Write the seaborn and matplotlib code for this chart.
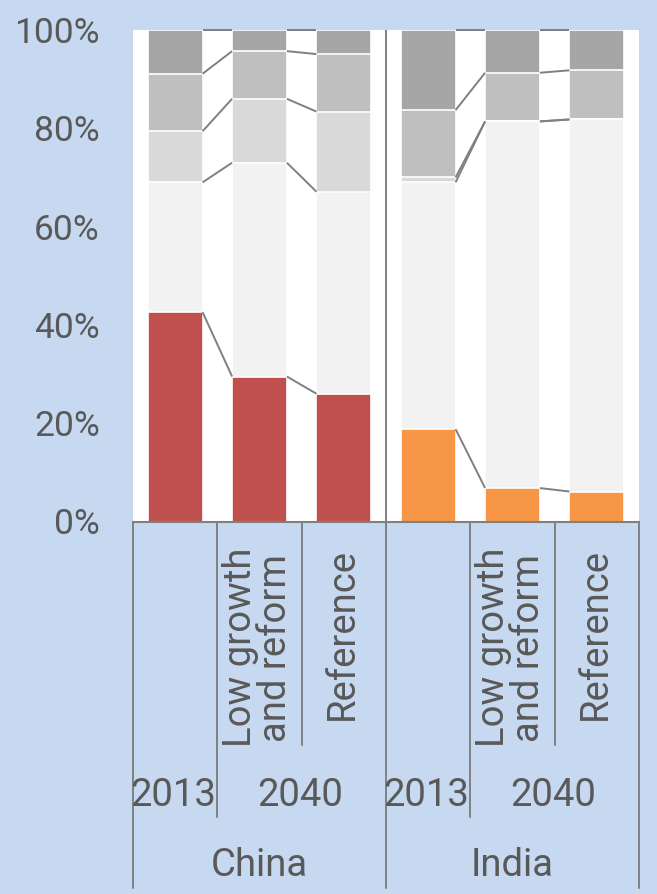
import numpy as np
import pandas as pd
import matplotlib
matplotlib.use("Agg")
import matplotlib.pyplot as plt
import matplotlib.transforms as mtransforms
import seaborn as sns

# ---- data (percent shares, bottom to top) ----
bar_ids = ["China 2013", "China LG", "China Ref", "India 2013", "India LG", "India Ref"]
countries = ["China", "India"]
years = ["2013", "2040", "2013", "2040"]
scenarios = ["", "Low growth\nand reform", "Reference", "", "Low growth\nand reform", "Reference"]
primary = [42.6, 29.5, 26.0, 18.8, 6.8, 6.1]
seg2 = [26.4, 43.5, 41.1, 50.2, 74.6, 75.7]
seg3 = [10.4, 13.0, 16.3, 1.0, 0.0, 0.0]
seg4 = [11.7, 9.7, 11.7, 13.7, 9.9, 10.0]
seg5 = [8.9, 4.3, 4.9, 16.3, 8.7, 8.2]
yticks = [0, 20, 40, 60, 80, 100]
ytick_labels = ["0%", "20%", "40%", "60%", "80%", "100%"]

primary_colors = ["#C0504D", "#C0504D", "#C0504D", "#F79646", "#F79646", "#F79646"]
layer_colors = ["#F2F2F2", "#D9D9D9", "#BFBFBF", "#A6A6A6"]
BG = "#C6D9F0"
TXT = "#595959"
LINE = "#808080"

sns.set_style("white")
plt.rcParams["font.family"] = ["Roboto", "DejaVu Sans"]

layers = np.array([primary, seg2, seg3, seg4, seg5])
cum = np.cumsum(layers, axis=0)

fig = plt.figure(figsize=(6.57, 8.94), dpi=100, facecolor=BG)
ax = fig.add_axes([133 / 657, 1 - 521.5 / 894, 506 / 657, 491.5 / 894])
ax.set_facecolor("white")

W = 0.65
# draw from the top layer down so lower layers overlay
for k in range(len(layers) - 1, 0, -1):
    df = pd.DataFrame({"bar": bar_ids, "val": cum[k]})
    sns.barplot(data=df, x="bar", y="val", order=bar_ids, color=layer_colors[k - 1],
                width=W, edgecolor="white", linewidth=1.2, ax=ax, saturation=1)
df0 = pd.DataFrame({"bar": bar_ids, "val": cum[0]})
sns.barplot(data=df0, x="bar", y="val", order=bar_ids, hue="bar", hue_order=bar_ids,
            palette=primary_colors, legend=False, width=W, edgecolor="white",
            linewidth=1.2, ax=ax, saturation=1)

# connector lines between adjacent bars within each country
for i in range(len(bar_ids) - 1):
    if i == 2:
        continue
    for k in range(len(layers)):
        ax.plot([i + W / 2, i + 1 - W / 2], [cum[k][i], cum[k][i + 1]],
                color=LINE, lw=1.4, solid_capstyle="butt", zorder=5, clip_on=False)

ax.plot([2.5, 2.5], [0, 100], color=LINE, lw=1.4, zorder=6)

ax.set_xlim(-0.5, 5.5)
ax.set_ylim(0, 100)
ax.set_yticks(yticks)
ax.set_yticklabels(ytick_labels, fontsize=25.5, color=TXT)
ax.tick_params(axis="y", length=0, pad=24)
ax.set_xticks([])
ax.set_xlabel("")
ax.set_ylabel("")
for s in ["left", "top", "right"]:
    ax.spines[s].set_visible(False)
ax.spines["bottom"].set_color(LINE)
ax.spines["bottom"].set_linewidth(1.5)

trans = mtransforms.blended_transform_factory(ax.transData, ax.transAxes)
H = 491.5


def ay(py):
    return (521.5 - py) / H


# category separators
for x, ybot in [(-0.5, 888), (0.5, 817), (1.5, 745), (2.5, 888),
                (3.5, 817), (4.5, 745), (5.5, 888)]:
    ax.plot([x, x], [0, ay(ybot)], color=LINE, lw=1.4, transform=trans, clip_on=False)

# scenario labels
for i, s in enumerate(scenarios):
    if s:
        ax.text(i - 0.02, ay(548), s, rotation=90, ha="center", va="top",
                multialignment="center", fontsize=27.5, color=TXT, transform=trans,
                linespacing=0.95)
# year labels
for c in range(2):
    ax.text(3 * c - 0.02, ay(795), "2013", ha="center", va="center", fontsize=27.5,
            color=TXT, transform=trans)
    ax.text(3 * c + 1.48, ay(795), "2040", ha="center", va="center", fontsize=27.5,
            color=TXT, transform=trans)
    ax.text(3 * c + 1.0, ay(866), countries[c], ha="center", va="center", fontsize=27.5,
            color=TXT, transform=trans)

fig.savefig("out.png", dpi=100, facecolor=BG)
